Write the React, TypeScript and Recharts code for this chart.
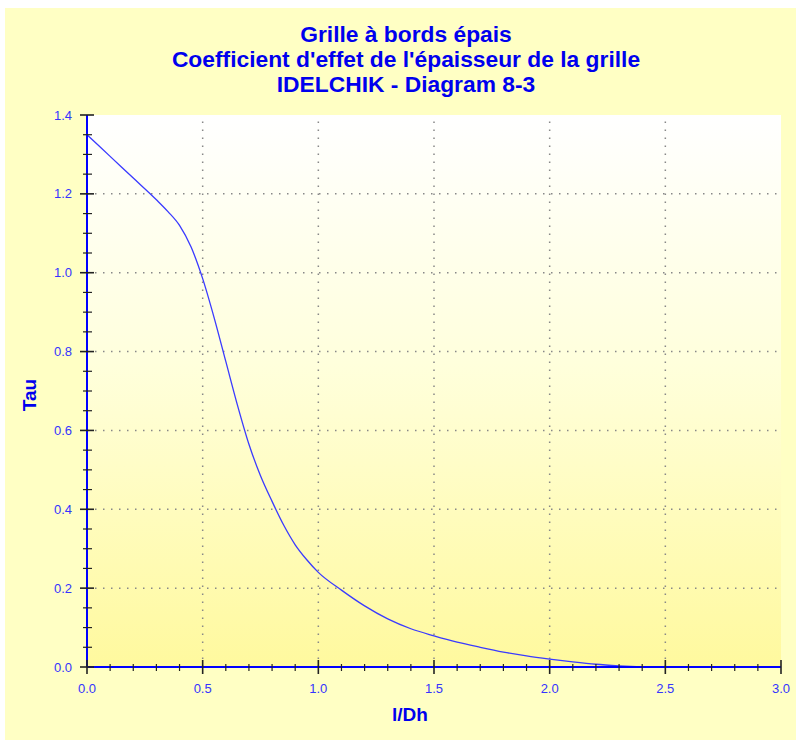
import { LineChart, Line, XAxis, YAxis, CartesianGrid, ReferenceLine } from "recharts";

// l/Dh values and the read-off Tau curve
const XS = [
  0, 0.1, 0.2, 0.3, 0.35, 0.4, 0.45, 0.5, 0.55, 0.6, 0.65, 0.7, 0.75, 0.8, 0.85, 0.9,
  0.95, 1.0, 1.1, 1.2, 1.3, 1.4, 1.5, 1.6, 1.7, 1.8, 1.9, 2.0, 2.1, 2.2, 2.3, 2.4,
];
const TAU = [
  1.35, 1.295, 1.24, 1.185, 1.155, 1.12, 1.065, 0.985, 0.885, 0.775, 0.665, 0.565, 0.485,
  0.42, 0.36, 0.31, 0.272, 0.24, 0.195, 0.155, 0.122, 0.097, 0.079, 0.063, 0.05, 0.038,
  0.028, 0.02, 0.013, 0.007, 0.003, 0.0,
];

const X_TICKS = [
  0, 0.1, 0.2, 0.3, 0.4, 0.5, 0.6, 0.7, 0.8, 0.9, 1.0, 1.1, 1.2, 1.3, 1.4, 1.5, 1.6, 1.7,
  1.8, 1.9, 2.0, 2.1, 2.2, 2.3, 2.4, 2.5, 2.6, 2.7, 2.8, 2.9, 3.0,
];
const Y_TICKS = [
  0, 0.05, 0.1, 0.15, 0.2, 0.25, 0.3, 0.35, 0.4, 0.45, 0.5, 0.55, 0.6, 0.65, 0.7, 0.75,
  0.8, 0.85, 0.9, 0.95, 1.0, 1.05, 1.1, 1.15, 1.2, 1.25, 1.3, 1.35, 1.4,
];
const X_GRID = [0.5, 1.0, 1.5, 2.0, 2.5];
const Y_GRID = [0.2, 0.4, 0.6, 0.8, 1.0, 1.2];

const TITLE = [
  "Grille à bords épais",
  "Coefficient d'effet de l'épaisseur de la grille",
  "IDELCHIK - Diagram 8-3",
];

const data = XS.map((x, i) => ({ x, tau: TAU[i] }));

const FONT = "'Liberation Sans', Arial, sans-serif";
const LABEL_BLUE = "#3434ff";
const TICK_COLOR = "#222";

const isStep = (v: number, step: number) =>
  Math.abs(v / step - Math.round(v / step)) < 1e-6;

function BottomTick(props: any) {
  const { x, y, payload } = props;
  const v = payload.value as number;
  const major = isStep(v, 0.5);
  return (
    <g>
      <line
        x1={x}
        x2={x}
        y1={y - (major ? 7 : 3)}
        y2={y + (major ? 7 : 4)}
        stroke={TICK_COLOR}
        strokeWidth={major ? 1.6 : 1.2}
      />
      {major && (
        <text x={x} y={y + 26} textAnchor="middle" fill={LABEL_BLUE} fontSize={13} fontFamily={FONT}>
          {v.toFixed(1)}
        </text>
      )}
    </g>
  );
}

function LeftTick(props: any) {
  const { x, y, payload } = props;
  const v = payload.value as number;
  const major = isStep(v, 0.2);
  return (
    <g>
      <line
        x1={x - (major ? 7 : 4)}
        x2={x + (major ? 7 : 5)}
        y1={y}
        y2={y}
        stroke={TICK_COLOR}
        strokeWidth={major ? 1.6 : 1.2}
      />
      {major && (
        <text x={x - 15} y={y + 4.5} textAnchor="end" fill={LABEL_BLUE} fontSize={13} fontFamily={FONT}>
          {v.toFixed(1)}
        </text>
      )}
    </g>
  );
}

function TopTick(props: any) {
  const { x, y } = props;
  return <line x1={x} x2={x} y1={y} y2={y + 4} stroke={TICK_COLOR} strokeWidth={1.2} />;
}

function RightTick(props: any) {
  const { x, y } = props;
  return <line x1={x - 4} x2={x} y1={y} y2={y} stroke={TICK_COLOR} strokeWidth={1.2} />;
}

export default function App() {
  return (
    <div
      style={{
        position: "absolute",
        left: 5,
        top: 8,
        width: 791,
        height: 732,
        background: "#ffffc4",
        fontFamily: FONT,
      }}
    >
      <div
        style={{
          position: "absolute",
          top: 14,
          left: 0,
          width: 802,
          textAlign: "center",
          color: "#0000ee",
          fontWeight: "bold",
          fontSize: 22.8,
          lineHeight: "25px",
        }}
      >
        {TITLE.map((t) => (
          <div key={t}>{t}</div>
        ))}
      </div>

      <LineChart
        width={791}
        height={732}
        data={data}
        margin={{ top: 107, right: 15, bottom: 0, left: 0 }}
      >
        <defs>
          <linearGradient id="plotBg" x1="0" y1="0" x2="0" y2="1">
            <stop offset="0" stopColor="#ffffff" />
            <stop offset="0.45" stopColor="#ffffdc" />
            <stop offset="1" stopColor="#fff99e" />
          </linearGradient>
        </defs>
        <CartesianGrid horizontal={false} vertical={false} fill="url(#plotBg)" fillOpacity={1} />
        {X_GRID.map((v) => (
          <ReferenceLine key={"vx" + v} x={v} stroke="#888" strokeWidth={1.5} strokeDasharray="1.5 6.5" />
        ))}
        {Y_GRID.map((v) => (
          <ReferenceLine key={"hy" + v} y={v} stroke="#888" strokeWidth={1.5} strokeDasharray="1.5 6.5" />
        ))}
        <XAxis
          dataKey="x"
          type="number"
          domain={[0, 3]}
          ticks={X_TICKS}
          interval={0}
          height={73}
          axisLine={{ stroke: "#0000ff", strokeWidth: 2 }}
          tickLine={false}
          tickSize={0}
          tickMargin={0}
          tick={(p: any) => <BottomTick {...p} />}
        />
        <XAxis
          xAxisId="top"
          orientation="top"
          type="number"
          domain={[0, 3]}
          allowDataOverflow
          ticks={X_TICKS}
          interval={0}
          height={0}
          axisLine={{ stroke: "#0000ff", strokeWidth: 1.5 }}
          tickLine={false}
          tickSize={0}
          tickMargin={0}
          tick={(p: any) => <TopTick {...p} />}
        />
        <YAxis
          type="number"
          domain={[0, 1.4]}
          ticks={Y_TICKS}
          interval={0}
          width={82}
          axisLine={{ stroke: "#0000ff", strokeWidth: 2 }}
          tickLine={false}
          tickSize={0}
          tickMargin={0}
          tick={(p: any) => <LeftTick {...p} />}
        />
        <YAxis
          yAxisId="right"
          orientation="right"
          type="number"
          domain={[0, 1.4]}
          allowDataOverflow
          ticks={Y_TICKS}
          interval={0}
          width={0}
          axisLine={{ stroke: "#0000ff", strokeWidth: 1.5 }}
          tickLine={false}
          tickSize={0}
          tickMargin={0}
          tick={(p: any) => <RightTick {...p} />}
        />
        <Line
          dataKey="tau"
          type="monotone"
          stroke="#3a3aff"
          strokeWidth={1.3}
          dot={false}
          isAnimationActive={false}
        />
      </LineChart>

      <div
        style={{
          position: "absolute",
          left: 25,
          top: 387,
          transform: "translate(-50%, -50%) rotate(-90deg)",
          color: "#0000ee",
          fontWeight: "bold",
          fontSize: 19,
        }}
      >
        Tau
      </div>
      <div
        style={{
          position: "absolute",
          left: 405,
          top: 707,
          transform: "translate(-50%, -50%)",
          color: "#0000ee",
          fontWeight: "bold",
          fontSize: 19,
        }}
      >
        l/Dh
      </div>
    </div>
  );
}
